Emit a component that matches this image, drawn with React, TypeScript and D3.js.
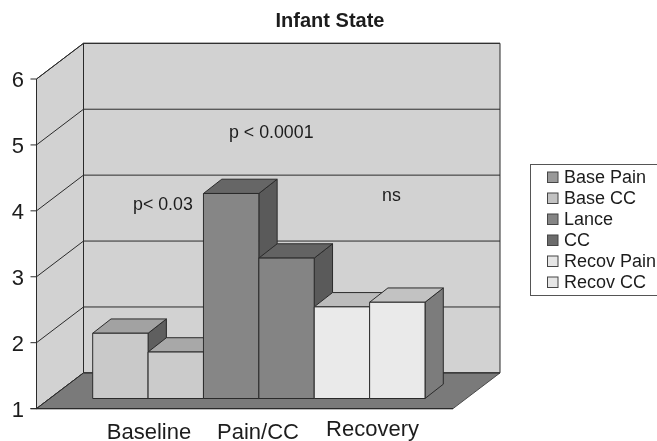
import React from "react";
import * as d3 from "d3";

const title = "Infant State";
const ticks = [1, 2, 3, 4, 5, 6];
const barNames = ["Base Pain", "Base CC", "Lance", "CC", "Recov Pain", "Recov CC"];
const barValues = [1.99, 1.705, 4.11, 3.13, 2.39, 2.46];
const groups = ["Baseline", "Pain/CC", "Recovery"];
const frontColors = ["#c9c9c9", "#cbcbcb", "#868686", "#848484", "#eaeaea", "#eaeaea"];
const topColors = ["#a2a2a2", "#a8a8a8", "#666666", "#646464", "#bcbcbc", "#c2c2c2"];
const sideColors = ["#5e5e5e", "#5e5e5e", "#5a5a5a", "#5a5a5a", "#7c7c7c", "#7c7c7c"];
const legendColors = ["#999999", "#c2c2c2", "#858585", "#6c6c6c", "#e6e6e6", "#e6e6e6"];
const notes = [
  { text: "p < 0.0001", x: 229, y: 138 },
  { text: "p< 0.03", x: 133, y: 210 },
  { text: "ns", x: 382, y: 201 },
];

const FONT = "'Liberation Sans', Arial, sans-serif";
const STROKE = "#2b2b2b";

const yFront = d3.scaleLinear().domain([1, 6]).range([408.6, 79]);
const depthX = 47;
const depthY = -35.7;
const xLeft = 36.5;
const xRight = 453;
const barBase = 398.5;
const barBand = d3.scaleBand<number>().domain(d3.range(6)).range([92.7, 425]);
const barDx = 18.3;
const barDy = -14.3;

function poly(points: [number, number][]) {
  return d3.line()(points) + "Z";
}

export default function App() {
  const bw = barBand.bandwidth();
  const unit = yFront(1) - yFront(2);
  return (
    <svg
      width={657}
      height={441}
      style={{ position: "absolute", left: 0, top: 0, background: "#fff" }}
    >
      <defs>
        <filter id="soft" x="-2%" y="-2%" width="104%" height="104%">
          <feGaussianBlur stdDeviation="0.35" />
        </filter>
      </defs>
      <g filter="url(#soft)" fontFamily={FONT} fill="#1c1c1c">
        <text x={330} y={27} fontSize={20} fontWeight="bold" textAnchor="middle">
          {title}
        </text>

        <path
          d={poly([
            [xLeft + depthX, yFront(6) + depthY],
            [xRight + depthX, yFront(6) + depthY],
            [xRight + depthX, yFront(1) + depthY],
            [xLeft + depthX, yFront(1) + depthY],
          ])}
          fill="#d2d2d2"
          stroke={STROKE}
          strokeWidth={1}
        />
        <path
          d={poly([
            [xLeft, yFront(6)],
            [xLeft + depthX, yFront(6) + depthY],
            [xLeft + depthX, yFront(1) + depthY],
            [xLeft, yFront(1)],
          ])}
          fill="#d2d2d2"
          stroke={STROKE}
          strokeWidth={1}
        />
        <path
          d={poly([
            [xLeft, yFront(1)],
            [xLeft + depthX, yFront(1) + depthY],
            [xRight + depthX, yFront(1) + depthY],
            [xRight, yFront(1)],
          ])}
          fill="#7a7a7a"
          stroke="#4a4a4a"
          strokeWidth={1}
        />

        {ticks.map((t) => (
          <g key={t}>
            <polyline
              points={`${xLeft - 6},${yFront(t)} ${xLeft},${yFront(t)} ${xLeft + depthX},${yFront(t) + depthY} ${xRight + depthX},${yFront(t) + depthY}`}
              fill="none"
              stroke={STROKE}
              strokeWidth={1}
            />
            <text x={24} y={yFront(t) + 8} fontSize={22} textAnchor="end">
              {t}
            </text>
          </g>
        ))}
        <line x1={xLeft - 6} x2={xRight} y1={yFront(1)} y2={yFront(1)} stroke={STROKE} strokeWidth={1.2} />

        {notes.map((n) => (
          <text key={n.text} x={n.x} y={n.y} fontSize={17.8}>
            {n.text}
          </text>
        ))}

        {barValues.map((v, i) => {
          const x0 = barBand(i)!;
          const top = barBase - (v - 1) * unit;
          return (
            <g key={barNames[i]} stroke={STROKE} strokeWidth={1} strokeLinejoin="round">
              <path
                d={poly([
                  [x0 + bw, top],
                  [x0 + bw + barDx, top + barDy],
                  [x0 + bw + barDx, barBase + barDy],
                  [x0 + bw, barBase],
                ])}
                fill={sideColors[i]}
              />
              <path
                d={poly([
                  [x0, top],
                  [x0 + barDx, top + barDy],
                  [x0 + bw + barDx, top + barDy],
                  [x0 + bw, top],
                ])}
                fill={topColors[i]}
              />
              <rect x={x0} y={top} width={bw} height={barBase - top} fill={frontColors[i]} />
            </g>
          );
        })}

        <text x={149} y={439} fontSize={22} textAnchor="middle">{groups[0]}</text>
        <text x={258} y={438.5} fontSize={22} textAnchor="middle">{groups[1]}</text>
        <text x={372.5} y={436} fontSize={22} textAnchor="middle">{groups[2]}</text>

        <rect x={530.5} y={164.5} width={140} height={131} fill="#fff" stroke="#555" strokeWidth={1} />
        {barNames.map((name, i) => {
          const y = 172 + i * 21;
          return (
            <g key={name}>
              <rect x={547.5} y={y} width={10.5} height={10.5} fill={legendColors[i]} stroke="#444" strokeWidth={1} />
              <text x={564} y={y + 10.5} fontSize={18}>
                {name}
              </text>
            </g>
          );
        })}
      </g>
    </svg>
  );
}
